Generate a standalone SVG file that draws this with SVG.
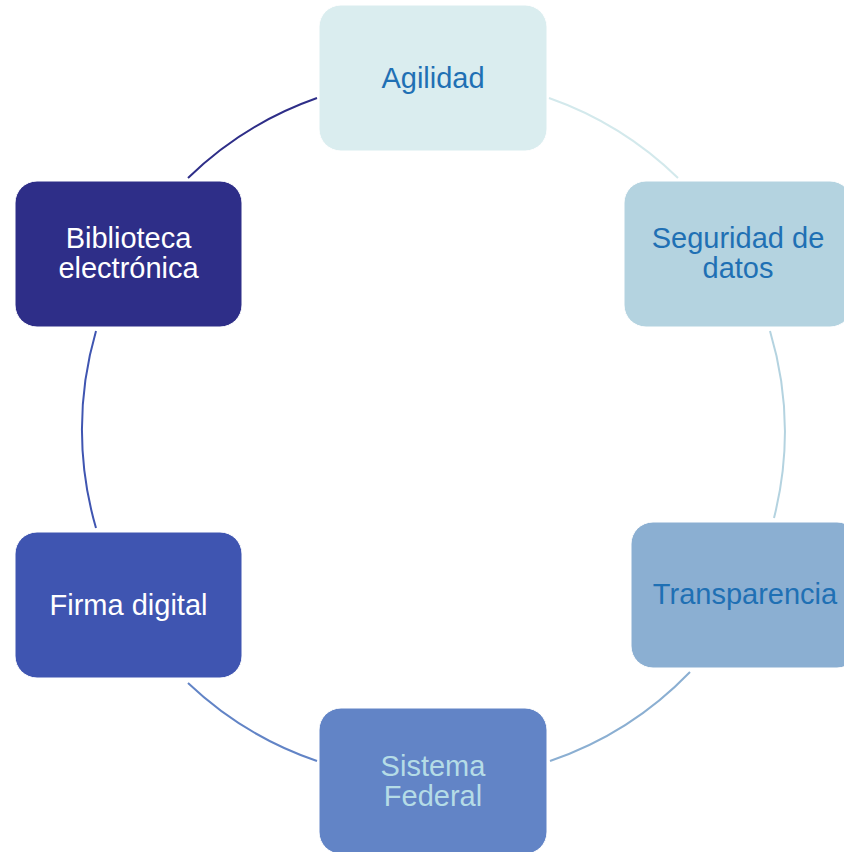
<svg xmlns="http://www.w3.org/2000/svg" width="844" height="852" viewBox="0 0 844 852">
<style>
.box{stroke:#ffffff;stroke-width:1}
.lbl{font-family:"Liberation Sans",Arial,sans-serif;font-size:29px;text-anchor:middle}
.arc{fill:none;stroke-width:2}
</style>
<rect width="844" height="852" fill="#ffffff"/>
<g id="connectors">
<path class="arc" stroke="#D3E9EC" d="M549,98 A352,352 0 0 1 678,178"/>
<path class="arc" stroke="#B4D3E0" d="M770,331 A352,352 0 0 1 774,518"/>
<path class="arc" stroke="#8BAFD2" d="M690,672 A352,352 0 0 1 550,761"/>
<path class="arc" stroke="#6284C6" d="M317,761 A352,352 0 0 1 188,683"/>
<path class="arc" stroke="#3F55B1" d="M96,528 A352,352 0 0 1 96,331"/>
<path class="arc" stroke="#2E2E88" d="M188,178 A352,352 0 0 1 317,98"/>
</g>
<g id="agilidad">
<rect class="box" x="319" y="5" width="228" height="146" rx="22" fill="#DAEDEF"/>
<text class="lbl" x="433" y="88" fill="#1F70B4">Agilidad</text>
</g>
<g id="seguridad">
<rect class="box" x="624" y="181" width="228" height="146" rx="22" fill="#B4D3E0"/>
<text class="lbl" x="738" y="248" fill="#1F70B4">Seguridad de</text>
<text class="lbl" x="738" y="278" fill="#1F70B4">datos</text>
</g>
<g id="transparencia">
<rect class="box" x="631" y="522" width="228" height="146" rx="22" fill="#8BAFD2"/>
<text class="lbl" x="745" y="604" fill="#1F70B4">Transparencia</text>
</g>
<g id="sistema">
<rect class="box" x="319" y="708" width="228" height="146" rx="22" fill="#6284C6"/>
<text class="lbl" x="433" y="776" fill="#B5DCE6">Sistema</text>
<text class="lbl" x="433" y="806" fill="#B5DCE6">Federal</text>
</g>
<g id="firma">
<rect class="box" x="15" y="532" width="227" height="146" rx="22" fill="#3F55B1"/>
<text class="lbl" x="128.5" y="615" fill="#ffffff">Firma digital</text>
</g>
<g id="biblioteca">
<rect class="box" x="15" y="181" width="227" height="146" rx="22" fill="#2E2E88"/>
<text class="lbl" x="128.5" y="248" fill="#ffffff">Biblioteca</text>
<text class="lbl" x="128.5" y="278" fill="#ffffff">electrónica</text>
</g>
</svg>
